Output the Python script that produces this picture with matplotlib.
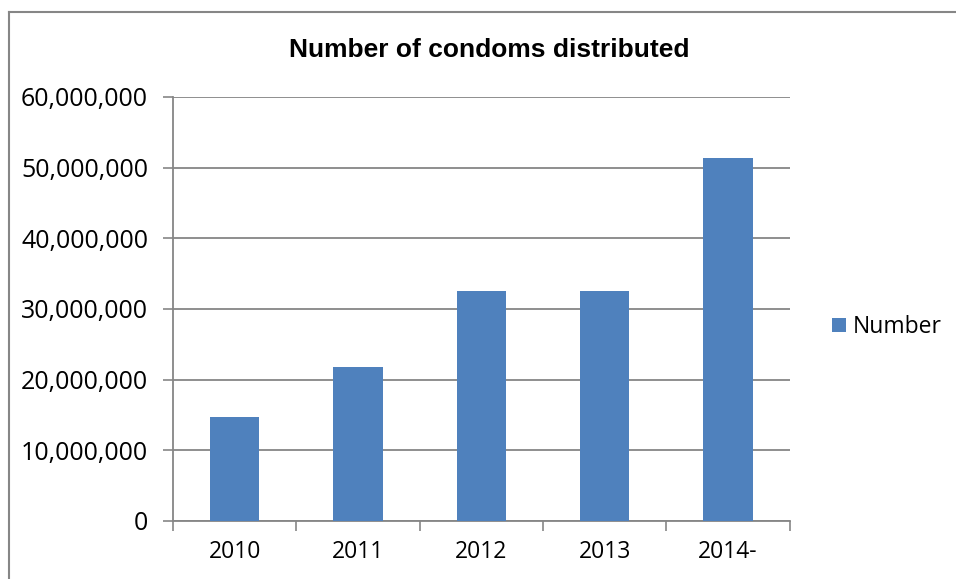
import matplotlib.pyplot as plt
import matplotlib.ticker as mticker
from matplotlib.lines import Line2D
import numpy as np

years = ["2010", "2011", "2012", "2013", "2014-"]
number = [14700000, 21800000, 32500000, 32500000, 51300000]

plt.rcParams['font.family'] = ['Open Sans', 'DejaVu Sans']

fig = plt.figure(figsize=(9.56, 5.79), dpi=100)
ax = fig.add_axes([0.181, 0.1002, 0.645, 0.7323])

x = np.arange(len(years))
ax.bar(x, number, width=0.4, color="#4F81BD", label="Number", zorder=3)

ax.set_xlim(-0.5, len(years) - 0.5)
ax.set_ylim(0, 60000000)
ax.yaxis.set_major_locator(mticker.MultipleLocator(10000000))
ax.yaxis.set_major_formatter(mticker.FuncFormatter(lambda v, p: f"{int(v):,}"))

# category labels centred, tick marks on the boundaries
ax.set_xticks(np.arange(-0.5, len(years)), minor=False)
ax.set_xticklabels([])
ax.set_xticks(x, minor=True)
ax.set_xticklabels(years, minor=True)
ax.tick_params(axis="x", which="major", length=7, color="#868686", width=1.2)
ax.tick_params(axis="x", which="minor", length=0, pad=14, labelsize=16.5)
ax.tick_params(axis="y", length=7, color="#868686", width=1.2, labelsize=18, pad=11)

ax.grid(axis="y", color="#868686", linewidth=1.3, zorder=0)
for s in ["top", "right"]:
    ax.spines[s].set_visible(False)
for s in ["left", "bottom"]:
    ax.spines[s].set_color("#868686")
    ax.spines[s].set_linewidth(1.3)

fig.text(0.512, 0.914, "Number of condoms distributed", ha="center", va="center",
         fontsize=19, fontweight="bold", family=["Liberation Sans", "DejaVu Sans"])

fig.legend(loc="center left", bbox_to_anchor=(0.849, 0.435), frameon=False,
           fontsize=16.5, handlelength=0.6, handleheight=0.6, handletextpad=0.3)

# chart area border (left and top edges visible)
fig.add_artist(Line2D([0.0095, 0.0095], [0.0, 0.9795], transform=fig.transFigure,
                      color="#868686", linewidth=1.5))
fig.add_artist(Line2D([0.0095, 1.0], [0.9795, 0.9795], transform=fig.transFigure,
                      color="#868686", linewidth=1.5))

fig.savefig("out.png", dpi=100)
